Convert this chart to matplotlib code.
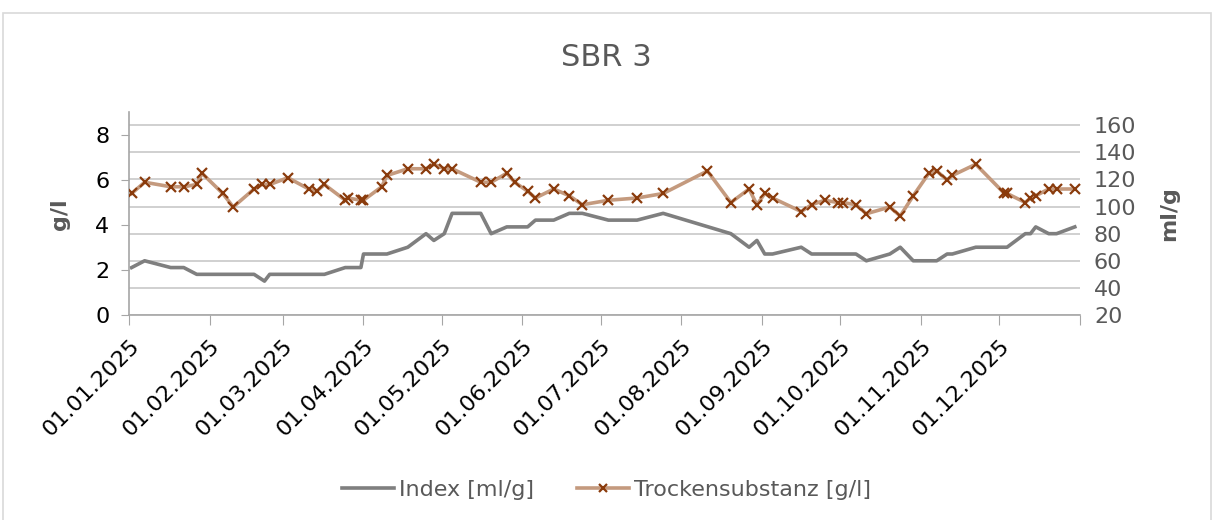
import matplotlib
matplotlib.use("Agg")
import matplotlib.pyplot as plt
import pandas as pd
from matplotlib.lines import Line2D
from matplotlib.patches import Rectangle

# Trockensubstanz [g/l] (left axis)
ts_dates = ["2025-01-02", "2025-01-07", "2025-01-17", "2025-01-22", "2025-01-27", "2025-01-29",
            "2025-02-06", "2025-02-10", "2025-02-18", "2025-02-21", "2025-02-24", "2025-03-03",
            "2025-03-11", "2025-03-14", "2025-03-17", "2025-03-25", "2025-03-26", "2025-03-31",
            "2025-04-01", "2025-04-08", "2025-04-10", "2025-04-18", "2025-04-25", "2025-04-28",
            "2025-05-02", "2025-05-05", "2025-05-16", "2025-05-20", "2025-05-26", "2025-05-29",
            "2025-06-03", "2025-06-06", "2025-06-13", "2025-06-19", "2025-06-24", "2025-07-04",
            "2025-07-15", "2025-07-25", "2025-08-11", "2025-08-20", "2025-08-27", "2025-08-30",
            "2025-09-02", "2025-09-05", "2025-09-16", "2025-09-20", "2025-09-25", "2025-09-30",
            "2025-10-02", "2025-10-07", "2025-10-11", "2025-10-20", "2025-10-24", "2025-10-29",
            "2025-11-04", "2025-11-07", "2025-11-11", "2025-11-13", "2025-11-22", "2025-12-03",
            "2025-12-04", "2025-12-11", "2025-12-13", "2025-12-15", "2025-12-20", "2025-12-23",
            "2025-12-30"]
ts_values = [5.4, 5.9, 5.7, 5.7, 5.8, 6.3,
             5.4, 4.8, 5.6, 5.8, 5.8, 6.1,
             5.6, 5.5, 5.8, 5.1, 5.2, 5.1,
             5.1, 5.7, 6.2, 6.5, 6.5, 6.7,
             6.5, 6.5, 5.9, 5.9, 6.3, 5.9,
             5.5, 5.2, 5.6, 5.3, 4.9, 5.1,
             5.2, 5.4, 6.4, 5.0, 5.6, 4.9,
             5.4, 5.2, 4.6, 4.9, 5.1, 5.0,
             5.0, 4.9, 4.5, 4.8, 4.4, 5.3,
             6.3, 6.4, 6.0, 6.2, 6.7, 5.4,
             5.4, 5.0, 5.2, 5.3, 5.6, 5.6,
             5.6]

# Index [ml/g] (right axis)
idx_dates = ["2025-01-02", "2025-01-07", "2025-01-17", "2025-01-22", "2025-01-27", "2025-02-18",
             "2025-02-22", "2025-02-24", "2025-03-17", "2025-03-25", "2025-03-31", "2025-04-01",
             "2025-04-10", "2025-04-18", "2025-04-25", "2025-04-28", "2025-05-02", "2025-05-05",
             "2025-05-16", "2025-05-20", "2025-05-26", "2025-06-03", "2025-06-06", "2025-06-13",
             "2025-06-19", "2025-06-24", "2025-07-04", "2025-07-15", "2025-07-25", "2025-08-20",
             "2025-08-27", "2025-08-30", "2025-09-02", "2025-09-05", "2025-09-16", "2025-09-20",
             "2025-10-07", "2025-10-11", "2025-10-20", "2025-10-24", "2025-10-29", "2025-11-07",
             "2025-11-11", "2025-11-13", "2025-11-22", "2025-12-04", "2025-12-11", "2025-12-13",
             "2025-12-15", "2025-12-20", "2025-12-23", "2025-12-30"]
idx_values = [55, 60, 55, 55, 50, 50,
              45, 50, 50, 55, 55, 65,
              65, 70, 80, 75, 80, 95,
              95, 80, 85, 85, 90, 90,
              95, 95, 90, 90, 95, 80,
              70, 75, 65, 65, 70, 65,
              65, 60, 65, 70, 60, 60,
              65, 65, 70, 70, 80, 80,
              85, 80, 80, 85]

month_ticks = pd.date_range("2025-01-01", "2026-01-01", freq="MS")
month_labels = [d.strftime("%d.%m.%Y") for d in month_ticks[:-1]] + [""]

W, H = 1213, 520
fig = plt.figure(figsize=(W / 100, H / 100), dpi=100)
fig.patch.set_facecolor("white")
fig.patches.append(Rectangle((3 / W, -0.01), (W - 5) / W, 1 - 13 / H + 0.01,
                             transform=fig.transFigure, fill=False,
                             edgecolor="#d9d9d9", linewidth=1.2))

ax = fig.add_axes([129 / W, 1 - 315 / H, (1080 - 129) / W, (315 - 112.5) / H])
ax2 = ax.twinx()
ax.set_zorder(ax2.get_zorder() + 1)
ax.patch.set_visible(False)

ts_x = pd.to_datetime(ts_dates)
idx_x = pd.to_datetime(idx_dates)

ax.plot(ts_x, ts_values, color="#c49a7e", linewidth=2.6, marker="x",
        markersize=7, markeredgecolor="#8a3b0c", markeredgewidth=1.6, zorder=3)
ax2.plot(idx_x, idx_values, color="#7f7f7f", linewidth=2.6, zorder=2)

ax.set_xlim(pd.Timestamp("2025-01-01"), pd.Timestamp("2026-01-01"))
ax.set_ylim(0, 9)
ax.set_yticks([0, 2, 4, 6, 8])
ax2.set_ylim(20, 169.4)
ax2.set_yticks(range(20, 161, 20))
ax2.grid(axis="y", color="#d0d0d0", linewidth=1.4)
ax2.set_axisbelow(True)

ax.set_xticks(month_ticks)
ax.set_xticklabels(month_labels, rotation=45, ha="right", rotation_mode="anchor",
                   fontsize=16, color="#000000")
ax.tick_params(axis="x", length=7, color="#a6a6a6", pad=8)
ax.tick_params(axis="y", length=6, color="#a6a6a6", labelsize=16, labelcolor="#000000", pad=8)
ax2.tick_params(axis="y", length=0, labelsize=16, labelcolor="#595959", pad=10)

for s in ["top", "right"]:
    ax.spines[s].set_visible(False)
for s in ["top", "right", "left", "bottom"]:
    ax2.spines[s].set_visible(False)
ax.spines["left"].set_color("#a6a6a6")
ax.spines["bottom"].set_color("#a6a6a6")
ax.spines["left"].set_linewidth(1.2)
ax.spines["bottom"].set_linewidth(1.2)

ax.set_ylabel("g/l", fontsize=16, fontweight="bold", color="#595959", labelpad=18)
ax2.set_ylabel("ml/g", fontsize=16, fontweight="bold", color="#595959", labelpad=16)

fig.text(0.5, 1 - 58 / H, "SBR 3", ha="center", va="center", fontsize=22, color="#595959")

handles = [
    Line2D([], [], color="#7f7f7f", linewidth=2.6),
    Line2D([], [], color="#c49a7e", linewidth=2.6, marker="x", markersize=6,
           markeredgecolor="#8a3b0c", markeredgewidth=1.6),
]
fig.legend(handles, ["Index [ml/g]", "Trockensubstanz [g/l]"], loc="center",
           bbox_to_anchor=(0.5, 1 - 490 / H), ncol=2, frameon=False, fontsize=16,
           labelcolor="#595959", handlelength=2.35, handletextpad=0.25, columnspacing=1.9)

fig.savefig("out.png", dpi=100)
